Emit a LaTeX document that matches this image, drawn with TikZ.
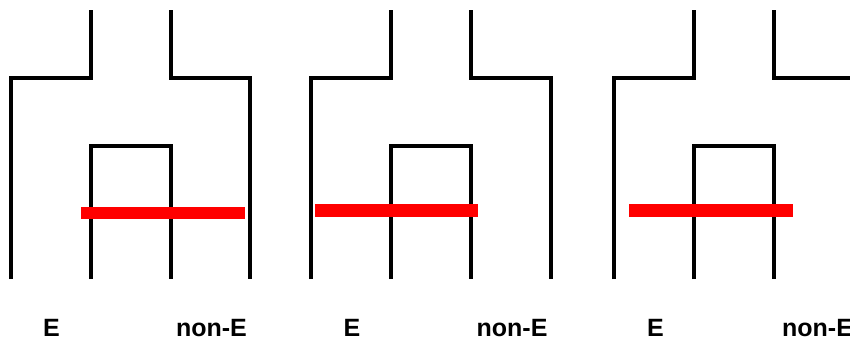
\documentclass[tikz,border=0pt]{standalone}
\usepackage{fontspec}
\setmainfont{Liberation Sans}
\begin{document}
\begin{tikzpicture}[x=1pt,y=-1pt,
  branch/.style={draw=black,line width=4.5pt,line join=miter,line cap=butt},
  cutbar/.style={draw=red,line width=12.5pt,line cap=butt},
  lab/.style={font=\fontsize{25}{30}\selectfont\bfseries,anchor=base,inner sep=0pt}]
\useasboundingbox (0,0) rectangle (850,340);
% panel 1
\draw[branch] (11,279) -- (11,78) -- (91,78) -- (91,10);
\draw[branch] (171,10) -- (171,78) -- (250,78) -- (250,279);
\draw[branch] (91,279) -- (91,146) -- (171,146) -- (171,279);
\draw[cutbar] (81,213) -- (245,213);
\node[lab] (e1) at (51.5,336.5) {E};
\node[lab] (n1) at (211.5,336.5) {non-E};
% panel 2
\draw[branch] (311,279) -- (311,78) -- (391,78) -- (391,10);
\draw[branch] (471,10) -- (471,78) -- (551,78) -- (551,279);
\draw[branch] (391,279) -- (391,146) -- (471,146) -- (471,279);
\draw[cutbar] (315,210.5) -- (478,210.5);
\node[lab] (e2) at (352,336.5) {E};
\node[lab] (n2) at (512,336.5) {non-E};
% panel 3
\draw[branch] (614,279) -- (614,78) -- (694,78) -- (694,10);
\draw[branch] (774,10) -- (774,78) -- (850,78);
\draw[branch] (694,279) -- (694,146) -- (774,146) -- (774,279);
\draw[cutbar] (629,210.5) -- (793,210.5);
\node[lab] (e3) at (655.5,336.5) {E};
\node[lab] (n3) at (817.5,336.5) {non-E};
\end{tikzpicture}
\end{document}
